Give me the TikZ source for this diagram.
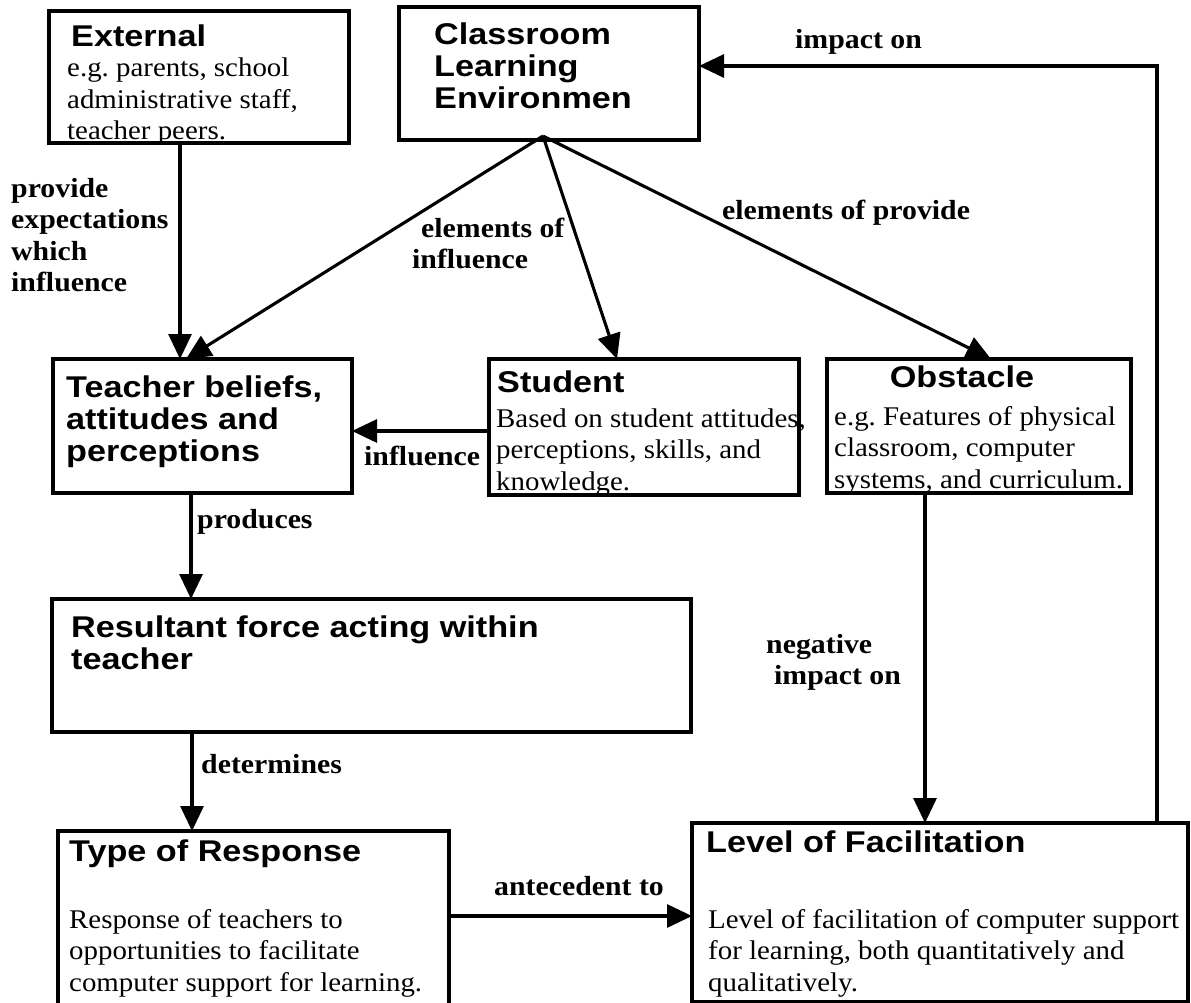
\documentclass[tikz,border=0pt]{standalone}
\usepackage{fontspec}
\usetikzlibrary{arrows.meta}
\newfontfamily\headfont{Liberation Sans}[FakeStretch=1.14]
\newfontfamily\bodyfont{Liberation Serif}[FakeStretch=1.07]
\newfontfamily\labelfont{Liberation Serif}[FakeStretch=1.08]
% stacked lines: the node baseline is that of the first line
\newcommand\rows[1]{\vtop{#1}}
\newcommand\rw[1]{\hbox{#1}}
\frenchspacing
\begin{document}
\begin{tikzpicture}[x=1pt,y=-1pt,
  box/.style={draw,line width=3.1pt,rectangle,inner sep=0pt,outer sep=0pt,anchor=north west},
  arr/.style={line width=3.1pt,-{Triangle[length=25pt,width=23pt]}},
  head/.style={anchor=base west,inner sep=0pt,font=\headfont\bfseries\fontsize{30}{32}\selectfont},
  body/.style={anchor=base west,inner sep=0pt,font=\bodyfont\fontsize{27}{31.5}\selectfont},
  lbl/.style={anchor=base west,inner sep=0pt,font=\labelfont\bfseries\fontsize{27.6}{31.5}\selectfont}]
\fill[white] (0,0) rectangle (1191,1003);
\useasboundingbox (0,0) rectangle (1191,1003);

% boxes
\node[box,minimum width=300pt,minimum height=132pt] (ext)   at (49,11)  {};
\node[box,minimum width=300pt,minimum height=133pt] (cls)   at (399,7)  {};
\node[box,minimum width=299pt,minimum height=134pt] (teach) at (53,359) {};
\node[box,minimum width=310pt,minimum height=136pt] (stu)   at (489,359) {};
\node[box,minimum width=304pt,minimum height=134pt] (obs)   at (827,359) {};
\node[box,minimum width=639pt,minimum height=133pt] (res)   at (52,599) {};
\node[box,minimum width=391pt,minimum height=180pt] (type)  at (58,831) {};
\node[box,minimum width=496pt,minimum height=179pt] (lvl)   at (692,823) {};

% box texts
\node[head] (extH) at (71,47) {External};
\node[body] (extB) at (67,77) {\rows{\rw{e.g. parents, school}\rw{administrative staff,}\rw{teacher peers.}}};
\node[head] (clsH) at (434,45) {\rows{\rw{Classroom}\rw{Learning}\rw{Environmen}}};
\node[head] (teachH) at (66,397) {\rows{\rw{Teacher beliefs,}\rw{attitudes and}\rw{perceptions}}};
\node[head] (stuH) at (497,392) {Student};
\node[body] (stuB) at (496,427) {\rows{\rw{Based on student attitudes,}\rw{perceptions, skills, and}\rw{knowledge.}}};
\node[head,anchor=base] (obsH) at (962,387) {Obstacle};
\node[body] (obsB) at (834,425) {\rows{\rw{e.g. Features of physical}\rw{classroom, computer}\rw{systems, and curriculum.}}};
\node[head] (resH) at (71,637) {\rows{\rw{Resultant force acting within}\rw{teacher}}};
\node[head] (typeH) at (69,861) {Type of Response};
\node[body] (typeB) at (69,928) {\rows{\rw{Response of teachers to}\rw{opportunities to facilitate}\rw{computer support for learning.}}};
\node[head] (lvlH) at (706,852) {Level of Facilitation};
\node[body] (lvlB) at (708,928) {\rows{\rw{Level of facilitation of computer support}\rw{for learning, both quantitatively and}\rw{qualitatively.}}};

% connectors
\coordinate (hub) at ([xshift=144pt,yshift=4pt]cls.south west);
\draw[arr] ([xshift=131pt]ext.south west) -- ([xshift=131pt]ext.south west |- teach.north);
\draw[arr] (hub) -- ([xshift=133pt]teach.north west);
\draw[arr] (hub) -- ([xshift=128pt]stu.north west);
\draw[arr] (hub) -- ([xshift=164pt]obs.north west);
\draw[arr] ([yshift=-4pt]stu.west) -- ([yshift=-4pt]stu.west -| teach.east);
\draw[arr] ([xshift=138pt]teach.south west) -- ([xshift=138pt]teach.south west |- res.north);
\draw[arr] ([xshift=140pt]res.south west) -- ([xshift=140pt]res.south west |- type.north);
\draw[arr] ([yshift=5pt]type.east) -- ([yshift=5pt]type.east -| lvl.west);
\draw[arr] ([xshift=98pt]obs.south west) -- ([xshift=98pt]obs.south west |- lvl.north);
\draw[arr] ([xshift=465pt]lvl.north west) |- ([yshift=7.5pt]cls.east);

% connector labels
\node[lbl] (lExt) at (11,197) {\rows{\rw{provide}\rw{expectations}\rw{which}\rw{influence}}};
\node[lbl] (lElInf) at (412,237) {\rows{\rw{\hspace{9pt}elements of}\rw{influence}}};
\node[lbl] (lElProv) at (722,219) {elements of provide};
\node[lbl] (lImpact) at (795,49) {impact on};
\node[lbl] (lInfl) at (364,465) {influence};
\node[lbl] (lProd) at (197,528) {produces};
\node[lbl] (lDet) at (201,773) {determines};
\node[lbl] (lAnte) at (494,895) {antecedent to};
\node[lbl] (lNeg) at (766,653) {\rows{\rw{negative}\rw{\hspace{8pt}impact on}}};
\end{tikzpicture}
\end{document}
